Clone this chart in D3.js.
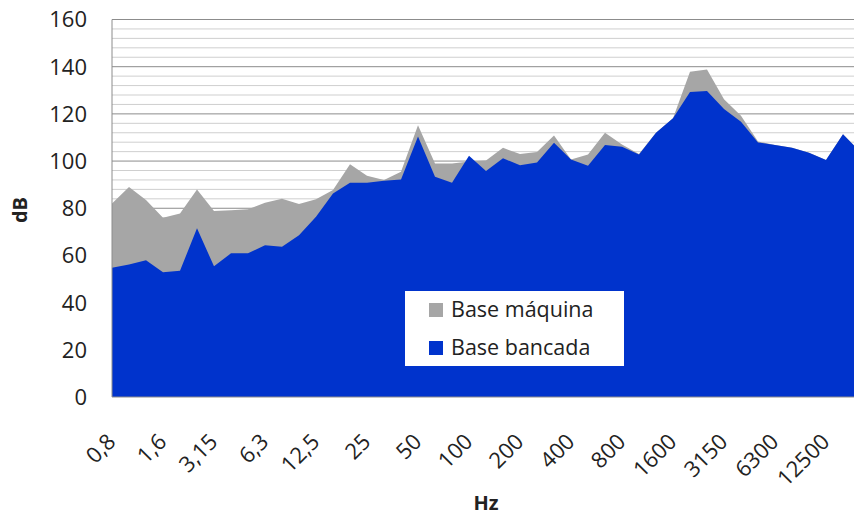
<!DOCTYPE html>
<meta charset="utf-8">
<style>
  body { margin: 0; background: #fff; }
  text { font-family: 'Open Sans', sans-serif; fill: #222; }
</style>
<div id="chart"></div>
<script src="https://d3js.org/d3.v7.min.js"></script>
<script>
// third-octave bands (Hz)
const bands = ["0,8","1","1,25","1,6","2","2,5","3,15","4","5","6,3","8","10","12,5","16","20","25","31,5","40","50","63","80","100","125","160","200","250","315","400","500","630","800","1000","1250","1600","2000","2500","3150","4000","5000","6300","8000","10000","12500","16000","20000"];

const baseMaquina = [82, 89, 83.5, 76, 77.8, 88, 78.8, 79.2, 79.6, 82.3, 84, 81.8, 83.8, 87.7, 98.6, 93.8, 92, 95.5, 115.2, 99, 99, 99.8, 100.2, 105.6, 103, 103.8, 110.8, 100.7, 102.8, 112, 107, 103, 112, 118.1, 137.9, 138.8, 126.2, 119.2, 108.3, 106.8, 105.6, 103.5, 100.4, 111.4, 104];
const baseBancada = [54.8, 56.2, 58, 52.9, 53.5, 71.5, 55.4, 60.9, 60.9, 64.3, 63.7, 68.6, 76.4, 86.3, 90.8, 90.8, 91.7, 92.2, 110.4, 93.3, 90.8, 102.3, 95.8, 101.2, 98.2, 99.4, 107.8, 100.7, 98, 106.8, 106.1, 102.8, 112, 118.1, 129.3, 129.7, 122.1, 116.7, 107.9, 106.8, 105.6, 103.5, 100.4, 111.4, 104];

const yTicks = [0, 20, 40, 60, 80, 100, 120, 140, 160];
const minorTicks = d3.range(0, 161, 4);
const labelEvery = 3;

const series = [
    {name: "Base máquina", values: baseMaquina, color: "#a6a6a6"},
    {name: "Base bancada", values: baseBancada, color: "#0033cc"}
];

const width = 854, height = 515;
const plotLeft = 112, plotTop = 19.5, plotBottom = 397;

const svg = d3.select("#chart").append("svg")
    .attr("width", width)
    .attr("height", height);

const x = d3.scalePoint()
    .domain(bands)
    .range([plotLeft, plotLeft + 17 * (bands.length - 1)]);

const y = d3.scaleLinear()
    .domain([0, 160])
    .range([plotBottom, plotTop]);

const plotRight = x(bands[bands.length - 1]);

// minor grid
svg.append("g")
    .selectAll("line")
    .data(minorTicks.filter(d => d % 20 !== 0))
    .join("line")
    .attr("x1", plotLeft).attr("x2", plotRight)
    .attr("y1", d => y(d)).attr("y2", d => y(d))
    .attr("stroke", "#cfcfcf")
    .attr("stroke-width", 1);

// major grid
svg.append("g")
    .selectAll("line")
    .data(yTicks.filter(d => d > 0))
    .join("line")
    .attr("x1", plotLeft).attr("x2", plotRight)
    .attr("y1", d => y(d)).attr("y2", d => y(d))
    .attr("stroke", "#8c8c8c")
    .attr("stroke-width", 1);

// areas
const area = d3.area()
    .x((d, i) => x(bands[i]))
    .y0(y(0))
    .y1(d => y(d));

svg.append("g")
    .selectAll("path")
    .data(series)
    .join("path")
    .attr("d", d => area(d.values))
    .attr("fill", d => d.color);

// plot border
svg.append("line")
    .attr("x1", plotLeft).attr("x2", plotLeft)
    .attr("y1", plotTop).attr("y2", plotBottom)
    .attr("stroke", "#8c8c8c");
svg.append("line")
    .attr("x1", plotLeft).attr("x2", plotRight)
    .attr("y1", plotBottom).attr("y2", plotBottom)
    .attr("stroke", "#8c8c8c");

// y axis labels
svg.append("g")
    .selectAll("text")
    .data(yTicks)
    .join("text")
    .attr("x", 87)
    .attr("y", d => y(d))
    .attr("dy", "0.36em")
    .attr("text-anchor", "end")
    .style("font-size", "22px")
    .text(d => d);

// x axis labels (every 3rd band)
svg.append("g")
    .selectAll("text")
    .data(bands.filter((d, i) => i % labelEvery === 0))
    .join("text")
    .attr("transform", d => `translate(${x(d) + 5},443) rotate(-45)`)
    .attr("text-anchor", "end")
    .style("font-size", "22px")
    .text(d => d);

// axis titles
svg.append("text")
    .attr("transform", "translate(27,210) rotate(-90)")
    .attr("text-anchor", "middle")
    .style("font-size", "20px")
    .style("font-weight", "bold")
    .text("dB");

svg.append("text")
    .attr("x", 486)
    .attr("y", 510)
    .attr("text-anchor", "middle")
    .style("font-size", "20px")
    .style("font-weight", "bold")
    .text("Hz");

// legend
const legend = svg.append("g").attr("transform", "translate(405,291)");
legend.append("rect")
    .attr("width", 219).attr("height", 75)
    .attr("fill", "#fff");

const item = legend.selectAll("g")
    .data(series)
    .join("g")
    .attr("transform", (d, i) => `translate(0,${i * 38})`);
item.append("rect")
    .attr("x", 24).attr("y", 12)
    .attr("width", 14).attr("height", 14)
    .attr("fill", d => d.color);
item.append("text")
    .attr("x", 46).attr("y", 26)
    .style("font-size", "21.5px")
    .text(d => d.name);
</script>
